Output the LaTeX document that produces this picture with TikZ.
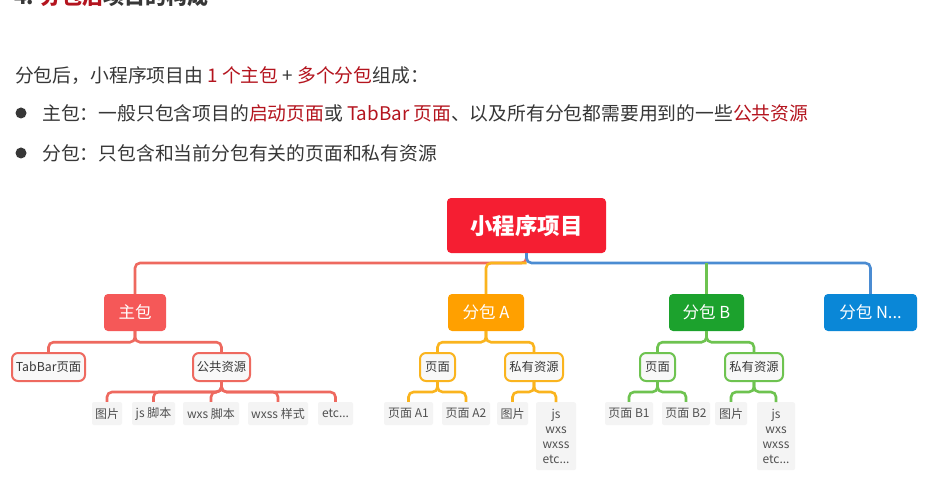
\documentclass[tikz,border=0pt]{standalone}
\usepackage{fontspec}
\setmainfont{Noto Sans CJK SC}
\definecolor{rootred}{RGB}{245,30,50}
\definecolor{zbred}{RGB}{245,88,88}
\definecolor{afill}{RGB}{255,160,0}
\definecolor{bfill}{RGB}{28,162,45}
\definecolor{nfill}{RGB}{10,135,215}
\definecolor{redline}{RGB}{238,105,95}
\definecolor{orline}{RGB}{250,180,30}
\definecolor{grline}{RGB}{110,195,80}
\definecolor{blline}{RGB}{75,140,210}
\definecolor{lvfill}{RGB}{248,248,248}
\definecolor{leaffill}{RGB}{244,244,244}
\definecolor{txtred}{RGB}{180,20,30}
\definecolor{txtdark}{RGB}{55,55,55}
\definecolor{txtgray}{RGB}{80,80,80}
\tikzset{
  rootbox/.style={fill=rootred, rounded corners=4pt, text=white, font=\fontsize{22.5}{26}\selectfont\bfseries, minimum width=159pt, minimum height=55pt, inner sep=0pt},
  lonebox/.style={rounded corners=4pt, text=white, font=\fontsize{16.5}{19}\selectfont, minimum height=37pt, inner sep=0pt},
  ltwobox/.style={draw=#1, line width=2pt, fill=lvfill, rounded corners=6pt, minimum height=28pt, inner sep=0pt, text=txtdark, font=\fontsize{12.3}{14}\selectfont},
  leafbox/.style={fill=leaffill, rounded corners=2pt, minimum height=23pt, inner sep=0pt, text=txtgray, font=\fontsize{12}{14}\selectfont},
  conn/.style={draw=#1, line width=2.6pt, rounded corners=5pt},
  txtline/.style={anchor=west, inner sep=0pt, text=txtdark, font=\fontsize{18.8}{22}\selectfont},
}
\begin{document}
\begin{tikzpicture}[x=1pt,y=-1pt]
\useasboundingbox (0,0) rectangle (941,489);
\fill[white] (0,0) rectangle (941,489);
% heading (cut off at top, as in the reference)
\node[anchor=west, inner sep=0pt, text=txtdark, font=\fontsize{21}{25}\selectfont\bfseries] (head) at (14,-3) {4. \textcolor{txtred}{分包后}项目的构成};
% text lines
\node[txtline] (l1) at (15,76) {分包后，小程序项目由 \textcolor{txtred}{1 个主包} + \textcolor{txtred}{多个分包}组成：};
\fill[txtdark] (21,113) circle (5.5);
\node[txtline] (l2) at (42,113) {主包：一般只包含项目的\textcolor{txtred}{启动页面}或 \textcolor{txtred}{TabBar 页面}、以及所有分包都需要用到的一些\textcolor{txtred}{公共资源}};
\fill[txtdark] (21,153) circle (5.5);
\node[txtline] (l3) at (42,153) {分包：只包含和当前分包有关的页面和私有资源};
% root and level 1
\node[rootbox] (root) at (526.5,225.5) {小程序项目};
\node[lonebox, fill=zbred, minimum width=62pt] (zb) at (135,312.5) {主包};
\node[lonebox, fill=afill, minimum width=76pt] (pa) at (486,312.5) {分包 A};
\node[lonebox, fill=bfill, minimum width=75pt] (pb) at (706.5,312.5) {分包 B};
\node[lonebox, fill=nfill, minimum width=93pt] (pn) at (870.5,312.5) {分包 N...};
\coordinate (j) at (526.5,263);
\coordinate (jb) at (706.5,263);
\draw[conn=redline] (root.south) -- (j) -| (zb.north);
\draw[conn=orline] (j) -| (pa.north);
\draw[conn=blline] (root.south) -- (j) -| (pn.north);
\draw[conn=grline, rounded corners=0pt] (jb) -- (pb.north);
% level 2 main package
\node[ltwobox=redline, minimum width=73pt] (tab) at (48.5,367) {TabBar页面};
\node[ltwobox=redline, minimum width=57pt] (pub) at (221.5,367) {公共资源};
\draw[conn=redline] (zb.south) -- ++(0,11) -| (tab.north);
\draw[conn=redline] (zb.south) -- ++(0,11) -| (pub.north);
\node[leafbox, minimum width=30pt] (z1) at (107,413.5) {图片};
\node[leafbox, minimum width=43pt] (z2) at (153.5,413.5) {js 脚本};
\node[leafbox, minimum width=56pt] (z3) at (211,413.5) {wxs 脚本};
\node[leafbox, minimum width=60pt] (z4) at (278,413.5) {wxss 样式};
\node[leafbox, minimum width=35pt] (z5) at (335.5,413.5) {etc...};
\foreach \n in {z1,z2,z3,z4,z5}{
  \draw[conn=redline] (pub.south) -- ++(0,10) -| (\n.north);
}
% package A
\node[ltwobox=orline, minimum width=35pt] (ay) at (437.5,367) {页面};
\node[ltwobox=orline, minimum width=58pt] (ar) at (534,367) {私有资源};
\draw[conn=orline] (pa.south) -- ++(0,11) -| (ay.north);
\draw[conn=orline] (pa.south) -- ++(0,11) -| (ar.north);
\node[leafbox, minimum width=49pt] (a1) at (408.5,413.5) {页面 A1};
\node[leafbox, minimum width=48pt] (a2) at (466,413.5) {页面 A2};
\node[leafbox, minimum width=31pt] (a3) at (512.5,413.5) {图片};
\node[leafbox, minimum width=40pt, minimum height=68pt, align=center, anchor=north, font=\fontsize{12}{15}\selectfont] (a4) at (556,402) {js\\wxs\\wxss\\etc...};
\draw[conn=orline] (ay.south) -- ++(0,10) -| (a1.north);
\draw[conn=orline] (ay.south) -- ++(0,10) -| (a2.north);
\draw[conn=orline] (ar.south) -- ++(0,10) -| (a3.north);
\draw[conn=orline] (ar.south) -- ++(0,10) -| (a4.north);
% package B
\node[ltwobox=grline, minimum width=35pt] (by) at (657.5,367) {页面};
\node[ltwobox=grline, minimum width=58pt] (br) at (754,367) {私有资源};
\draw[conn=grline] (pb.south) -- ++(0,11) -| (by.north);
\draw[conn=grline] (pb.south) -- ++(0,11) -| (br.north);
\node[leafbox, minimum width=48pt] (b1) at (629,413.5) {页面 B1};
\node[leafbox, minimum width=48pt] (b2) at (686,413.5) {页面 B2};
\node[leafbox, minimum width=32pt] (b3) at (731,413.5) {图片};
\node[leafbox, minimum width=38pt, minimum height=68pt, align=center, anchor=north, font=\fontsize{12}{15}\selectfont] (b4) at (776,402) {js\\wxs\\wxss\\etc...};
\draw[conn=grline] (by.south) -- ++(0,10) -| (b1.north);
\draw[conn=grline] (by.south) -- ++(0,10) -| (b2.north);
\draw[conn=grline] (br.south) -- ++(0,10) -| (b3.north);
\draw[conn=grline] (br.south) -- ++(0,10) -| (b4.north);
\end{tikzpicture}
\end{document}
